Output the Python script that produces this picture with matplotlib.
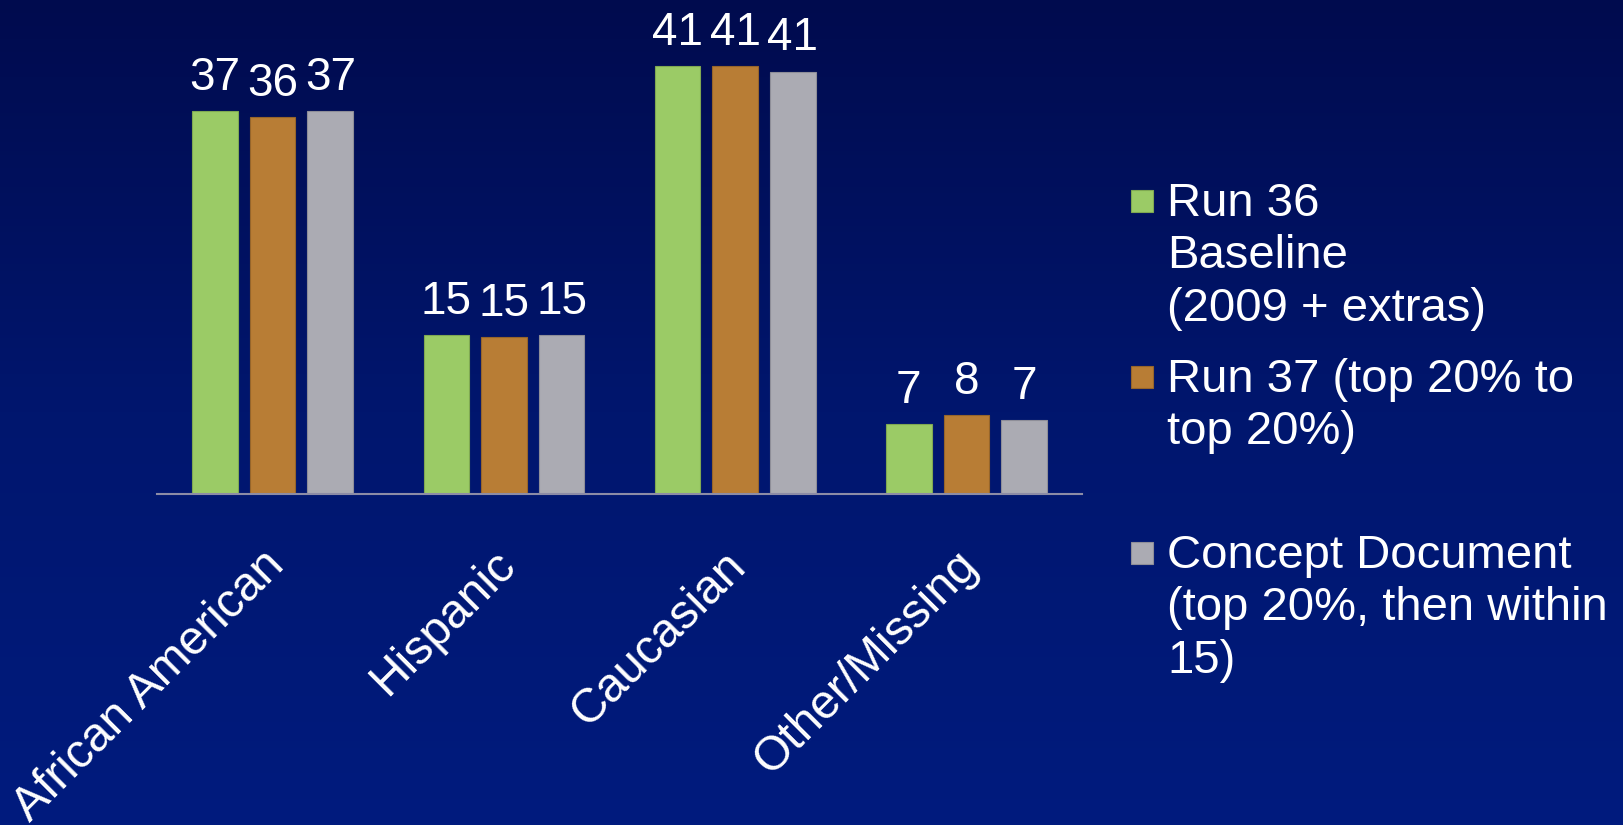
# imports
import numpy as np
import matplotlib
matplotlib.use("Agg")
import matplotlib.pyplot as plt
from matplotlib.colors import LinearSegmentedColormap
from matplotlib.patches import Rectangle
from matplotlib.transforms import ScaledTranslation

plt.rcParams['font.family'] = ['Liberation Sans', 'DejaVu Sans']

# data (percent of students per group)
categories = ["African American", "Hispanic", "Caucasian", "Other/Missing"]
run36 = [36.9, 15.3, 41.2, 6.7]
run37 = [36.3, 15.1, 41.2, 7.6]
concept = [36.9, 15.3, 40.7, 7.1]
series_labels = ["Run 36\nBaseline\n(2009 + extras)",
                 "Run 37 (top 20% to\ntop 20%)",
                 "Concept Document\n(top 20%, then within\n15)"]
colors = ["#9BCB66", "#B87D35", "#ABABB3"]
edges = ["#7FA852", "#96652A", "#8E8E98"]

fig = plt.figure(figsize=(16.24, 8.25), dpi=100)

# background gradient
bg = fig.add_axes([0, 0, 1, 1], zorder=-10)
cmap = LinearSegmentedColormap.from_list("bg", ["#000b4e", "#00166e", "#001b7e"])
bg.imshow(np.linspace(0, 1, 256).reshape(-1, 1), aspect="auto", cmap=cmap,
          extent=[0, 1, 0, 1], origin="upper")
bg.axis("off")

ax = fig.add_axes([0.0967, 0.4012, 0.5696, 0.5624])
ax.patch.set_alpha(0)

x = np.arange(len(categories))
width = 0.197
step = 0.249
all_series = [run36, run37, concept]
for k, vals in enumerate(all_series):
    pos = x + (k - 1) * step
    ax.bar(pos, vals, width, color=colors[k], edgecolor=edges[k], linewidth=0.8)
    for xp, v in zip(pos, vals):
        ax.annotate(str(int(round(v))), (xp, v), xytext=(0, 8), textcoords="offset points",
                    ha="center", va="bottom", color="white", fontsize=33)

ax.set_xlim(-0.5, len(categories) - 0.5)
ax.set_ylim(0, 44.7)
for s in ["top", "right", "left"]:
    ax.spines[s].set_visible(False)
ax.spines["bottom"].set_color("#8C8CA6")
ax.spines["bottom"].set_linewidth(1.5)
ax.set_yticks([])
ax.set_xticks(x)
ax.set_xticklabels(categories, rotation=45, ha="right", color="white", fontsize=34.5)
ax.tick_params(axis="x", length=0, pad=35)
for lab in ax.get_xticklabels():
    lab.set_transform(lab.get_transform() + ScaledTranslation(0.2, 0, fig.dpi_scale_trans))

# legend, evenly spaced slots like the original
W, H = 1624.0, 825.0
for k, lbl in enumerate(series_labels):
    top = 184 + k * 176
    fig.patches.append(Rectangle((1131 / W, 1 - (top + 28) / H), 22 / W, 22 / H,
                                 transform=fig.transFigure, facecolor=colors[k],
                                 edgecolor=edges[k], linewidth=0.8))
    fig.text(1167 / W, 1 - (top - 2) / H, lbl, color="white", fontsize=34,
             ha="left", va="top", linespacing=1.25)

fig.savefig("out.png", dpi=100)
